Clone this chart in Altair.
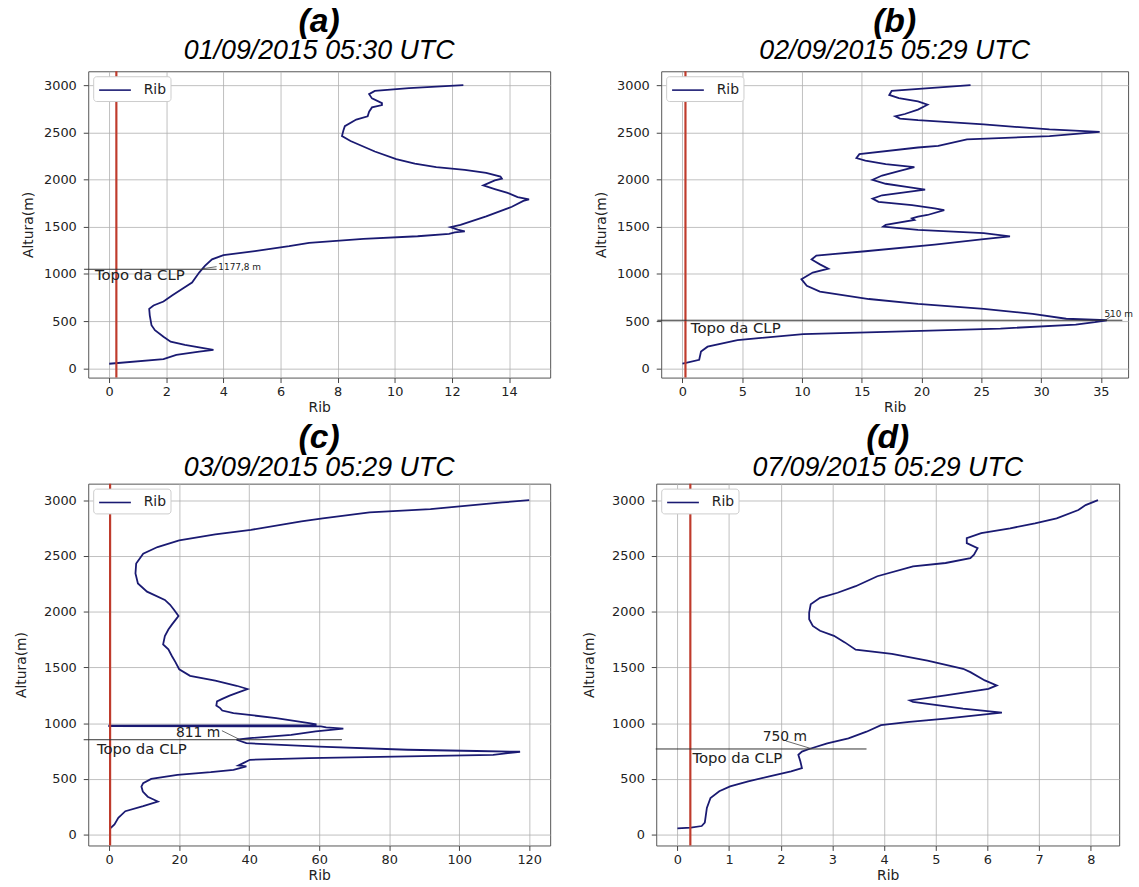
import altair as alt
import pandas as pd

# ---------------- data ----------------
ALT_A = [49, 98, 143, 178, 195, 215, 248, 283, 335, 405, 457, 562, 631, 666, 708, 771, 841, 910,
         1015, 1085, 1155, 1200, 1242, 1294, 1330, 1371, 1400, 1425, 1440, 1451, 1470, 1496, 1520,
         1610, 1712, 1775, 1790, 1815, 1859, 1900, 1939, 1991, 2010, 2032, 2070, 2103, 2131, 2170,
         2218, 2298, 2409, 2461, 2520, 2566, 2636, 2671, 2720, 2765, 2790, 2810, 2860, 2905, 2939,
         2970, 3000]
RIB_A = [0.0, 1.9, 2.35, 3.15, 3.65, 3.3, 2.65, 2.15, 1.9, 1.6, 1.48, 1.42, 1.4, 1.55, 1.9, 2.2,
         2.55, 2.9, 3.15, 3.35, 3.6, 4.0, 5.1, 6.3, 7.0, 8.9, 10.8, 11.9, 12.1, 12.45, 12.2, 11.95,
         12.3, 13.2, 14.1, 14.5, 14.7, 14.3, 13.95, 13.5, 13.1, 13.5, 13.75, 13.7, 13.2, 12.45,
         11.45, 10.7, 10.05, 9.3, 8.45, 8.15, 8.2, 8.25, 8.65, 9.05, 9.1, 9.2, 9.55, 9.55, 9.2, 9.1,
         9.3, 10.5, 12.4]

ALT_B = [50, 56, 91, 178, 230, 300, 363, 387, 422, 463, 490, 510, 526, 578, 631, 683, 735, 813,
         875, 945, 1015, 1056, 1102, 1154, 1196, 1241, 1311, 1370, 1398, 1433, 1468, 1503, 1520,
         1572, 1590, 1608, 1625, 1677, 1695, 1729, 1765, 1799, 1834, 1876, 1893, 1921, 1956, 1998,
         2043, 2089, 2131, 2165, 2200, 2228, 2270, 2340, 2357, 2427, 2461, 2505, 2531, 2584, 2629,
         2646, 2671, 2695, 2741, 2793, 2828, 2863, 2897, 2939, 3000]
RIB_B = [0.0, 0.2, 1.4, 1.55, 2.1, 4.6, 10.1, 17.0, 26.6, 32.9, 34.5, 35.5, 32.1, 29.3, 25.2, 19.7,
         15.6, 11.5, 10.4, 9.95, 10.9, 12.2, 11.5, 10.8, 11.2, 15.3, 21.1, 25.2, 27.4, 25.2, 19.7,
         16.8, 17.0, 19.4, 19.2, 19.7, 20.5, 21.9, 21.1, 19.2, 16.4, 15.9, 16.7, 19.2, 20.3, 18.9,
         17.0, 15.9, 16.7, 18.1, 19.4, 17.0, 15.3, 14.55, 14.8, 19.7, 21.4, 23.8, 30.7, 34.9, 30.7,
         25.2, 19.7, 18.2, 17.8, 18.6, 19.7, 20.5, 19.7, 18.1, 17.3, 17.5, 24.1]

ALT_C = [56, 62, 92, 151, 210, 255, 297, 340, 386, 431, 462, 500, 536, 560, 581, 611, 620, 641,
         671, 686, 716, 738, 743, 750, 761, 790, 820, 851, 865, 895, 925, 950, 962, 970, 974, 977,
         980, 990, 1000, 1045, 1090, 1113, 1135, 1158, 1195, 1217, 1247, 1276, 1306, 1335, 1380,
         1424, 1483, 1543, 1602, 1661, 1706, 1780, 1839, 1883, 1928, 1960, 2016, 2061, 2105, 2179,
         2253, 2342, 2431, 2520, 2579, 2638, 2692, 2733, 2810, 2837, 2890, 2920, 2979, 3000]
RIB_C = [0.0, 0.5, 1.5, 2.6, 4.6, 9.7, 13.9, 11.0, 9.6, 9.2, 9.7, 12.0, 19.5, 29.0, 35.5, 39.2,
         36.9, 38.3, 40.2, 57.1, 109.7, 116.0, 117.4, 105.0, 85.2, 60.0, 39.2, 36.4, 40.2, 52.0,
         59.0, 66.9, 62.0, 60.5, 0.0, 0.0, 59.0, 59.0, 57.1, 47.7, 35.5, 32.3, 31.7, 30.6, 30.8,
         32.3, 34.4, 36.9, 39.5, 36.4, 30.3, 23.1, 20.0, 19.0, 17.9, 16.9, 15.4, 15.9, 16.9, 17.9,
         19.0, 19.8, 18.5, 17.4, 15.9, 10.8, 8.2, 7.5, 7.7, 9.7, 13.8, 20.0, 30.3, 40.5, 54.9,
         61.0, 74.4, 91.8, 112.3, 120.0]

ALT_D = [56, 62, 77, 107, 240, 329, 389, 433, 478, 522, 567, 596, 656, 715, 745, 768, 819, 863,
         923, 982, 1012, 1041, 1086, 1095, 1130, 1190, 1203, 1249, 1308, 1338, 1383, 1457, 1487,
         1561, 1620, 1659, 1724, 1783, 1828, 1872, 1932, 1991, 2065, 2124, 2169, 2228, 2317, 2406,
         2436, 2480, 2510, 2569, 2614, 2658, 2703, 2747, 2792, 2836, 2911, 2955, 3000]
RIB_D = [0.0, 0.26, 0.47, 0.53, 0.57, 0.64, 0.81, 1.02, 1.37, 1.78, 2.2, 2.41, 2.38, 2.34, 2.41,
         2.55, 2.9, 3.31, 3.66, 3.94, 4.49, 5.19, 6.09, 6.28, 5.53, 4.56, 4.5, 5.19, 6.02, 6.18,
         5.95, 5.67, 5.53, 4.84, 4.15, 3.45, 3.24, 3.03, 2.76, 2.62, 2.55, 2.55, 2.58, 2.76, 3.1,
         3.45, 3.87, 4.56, 5.19, 5.67, 5.74, 5.81, 5.6, 5.6, 5.88, 6.44, 6.92, 7.34, 7.76, 7.9, 8.14]

LETTERS = ["(a)", "(b)", "(c)", "(d)"]
DATES = ["01/09/2015 05:30 UTC", "02/09/2015 05:29 UTC", "03/09/2015 05:29 UTC", "07/09/2015 05:29 UTC"]
X_DOMAINS = [[-0.735, 15.44], [-1.78, 37.28], [-6.0, 126.0], [-0.41, 8.55]]
X_TICKS = [list(range(0, 15, 2)), list(range(0, 36, 5)), list(range(0, 121, 20)), list(range(0, 9))]
Y_TICKS = [0, 500, 1000, 1500, 2000, 2500, 3000]
Y_DOMAIN = [-97.5, 3147.5]
RIB_CRIT = 0.25

# Topo da CLP line: altitude, x start, x end
CLP_ALT = [1050, 510, 851, 768]
CLP_X1 = [-0.88, -2.1, -7.3, -0.42]
CLP_X2 = [3.76, 36.8, 66.5, 3.66]
# "Topo da CLP" label anchor (left)
TOPO_X = [-0.5, 0.7, -3.5, 0.29]
TOPO_Y = [985, 432, 770, 691]
# height annotation
ANN_TEXT = ["1177,8 m", "510 m", "811 m", "750 m"]
ANN_X = [3.82, 35.3, 25.4, 2.08]
ANN_Y = [1075, 578, 910, 878]
ANN_SMALL = [True, True, False, False]
LEAD_X1 = [3.28, 35.4, 32.2, 2.1]
LEAD_Y1 = [1056, 512, 932, 840]
LEAD_X2 = [3.76, 35.9, 37.4, 2.6]
LEAD_Y2 = [1078, 555, 851, 770]

SERIES_ALT = [ALT_A, ALT_B, ALT_C, ALT_D]
SERIES_RIB = [RIB_A, RIB_B, RIB_C, RIB_D]

LINE_COLOR = "#1a1a72"
RED = "#bf3b2c"
WIDTHS = [466, 471, 466, 467]
HEIGHTS = [309, 309, 365, 365]
Y_TITLE_PAD = [8, 8, 15, 15]
TITLE_OFFSET = [6, 6, 2, 2]


def panel(k):
    df = pd.DataFrame({"Rib": SERIES_RIB[k], "Altura": SERIES_ALT[k]})
    df["i"] = range(len(df))
    df["serie"] = "Rib"

    xs = alt.Scale(domain=X_DOMAINS[k], nice=False, zero=False)
    ys = alt.Scale(domain=Y_DOMAIN, nice=False, zero=False)
    x = alt.X("Rib:Q", scale=xs, axis=alt.Axis(values=X_TICKS[k], title="Rib", format="d",
                                               labelPadding=3, titlePadding=2))
    y = alt.Y("Altura:Q", scale=ys, axis=alt.Axis(values=Y_TICKS, title="Altura(m)", format="d",
                                                  labelPadding=7, titlePadding=Y_TITLE_PAD[k]))

    line = alt.Chart(df).mark_line(strokeWidth=1.8).encode(
        x=x, y=y, order="i:Q",
        color=alt.Color("serie:N",
                        scale=alt.Scale(domain=["Rib"], range=[LINE_COLOR]),
                        legend=alt.Legend(title=None, orient="top-left", offset=5, padding=4,
                                          strokeColor="#cccccc", fillColor="white",
                                          cornerRadius=3, symbolType="M-0.89,0L2.67,0",
                                          symbolSize=324, symbolStrokeWidth=1.6,
                                          symbolFillColor="transparent",
                                          labelFontSize=14, labelFont="DejaVu Sans",
                                          labelColor="#222", labelOffset=27)))

    red = alt.Chart(pd.DataFrame({"Rib": [RIB_CRIT]})).mark_rule(
        color=RED, strokeWidth=2.2).encode(x=alt.X("Rib:Q"))

    clp = alt.Chart(pd.DataFrame({"Rib": [CLP_X1[k]], "Rib2": [CLP_X2[k]],
                                  "Altura": [CLP_ALT[k]]})).mark_rule(
        color="#333333", strokeWidth=1, clip=False).encode(
        x=alt.X("Rib:Q"), x2="Rib2:Q", y=alt.Y("Altura:Q"))

    lead = alt.Chart(pd.DataFrame({"Rib": [LEAD_X1[k]], "Rib2": [LEAD_X2[k]],
                                   "Altura": [LEAD_Y1[k]], "Altura2": [LEAD_Y2[k]]})).mark_rule(
        color="#444444", strokeWidth=0.8, clip=False).encode(
        x=alt.X("Rib:Q"), x2="Rib2:Q", y=alt.Y("Altura:Q"), y2="Altura2:Q")

    topo = alt.Chart(pd.DataFrame({"Rib": [TOPO_X[k]], "Altura": [TOPO_Y[k]],
                                   "t": ["Topo da CLP"]})).mark_text(
        align="left", baseline="middle", fontSize=15, font="DejaVu Sans", color="#222").encode(
        x=alt.X("Rib:Q"), y=alt.Y("Altura:Q"), text="t:N")

    small = ANN_SMALL[k]
    ann = alt.Chart(pd.DataFrame({"Rib": [ANN_X[k]], "Altura": [ANN_Y[k]],
                                  "t": [ANN_TEXT[k]]})).mark_text(
        align="left" if small else "center", baseline="middle",
        fontSize=9 if small else 14, font="DejaVu Sans", color="#222").encode(
        x=alt.X("Rib:Q"), y=alt.Y("Altura:Q"), text="t:N")

    return alt.layer(line, red, clp, lead, topo, ann).properties(
        width=WIDTHS[k], height=HEIGHTS[k],
        title=alt.Title(LETTERS[k], subtitle=DATES[k], font="Liberation Sans",
                        fontSize=34, fontStyle="italic", fontWeight="bold", color="black",
                        subtitleFont="Liberation Sans", subtitleFontSize=27,
                        subtitleFontStyle="italic", subtitleColor="black",
                        anchor="middle", offset=TITLE_OFFSET[k], subtitlePadding=0))


def row(a, b, sp):
    return alt.hconcat(a, b, spacing=sp).resolve_scale(
        x="independent", y="independent", color="independent").resolve_legend(color="independent")


chart = alt.vconcat(row(panel(0), panel(1), 43), row(panel(2), panel(3), 31), spacing=5).resolve_scale(
    x="independent", y="independent", color="independent").resolve_legend(
    color="independent").properties(
    padding={"left": 14, "top": 0, "right": 5, "bottom": 3}, background="white"
).configure_axis(
    labelFont="DejaVu Sans", labelFontSize=13, labelColor="#222",
    titleFont="DejaVu Sans", titleFontSize=14, titleColor="#222", titleFontWeight="normal",
    tickColor="#444", tickSize=5,
    gridColor="#b0b0b0", gridWidth=0.8, domain=False
).configure_view(stroke="#555555", strokeWidth=1)

chart.save("out.html", embed_options={"renderer": "svg", "actions": False})
